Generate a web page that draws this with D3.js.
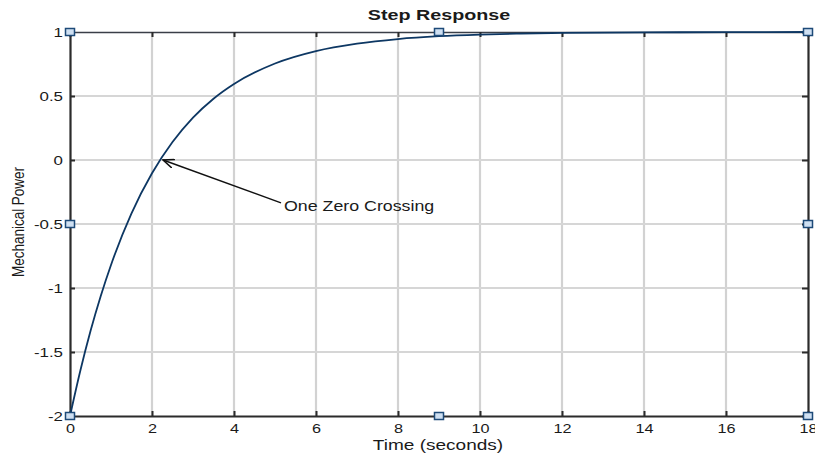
<!DOCTYPE html>
<html>
<head>
<meta charset="utf-8">
<script src="https://cdn.jsdelivr.net/npm/d3@7/dist/d3.min.js"></script>
<style>
  html, body { margin: 0; padding: 0; background: #fff; }
  svg text { font-family: "Liberation Sans", Arial, sans-serif; fill: #1a1a1a; }
</style>
</head>
<body>
<svg id="chart" width="815" height="454"></svg>
<script>
// Step response samples: time (s) and mechanical power
const times  = [0, 0.25, 0.5, 0.75, 1, 1.5, 2, 2.5, 3, 3.5, 4, 5, 6, 7, 8, 9, 10, 11, 12, 14, 16, 18];
const power  = [-2, -1.648, -1.336, -1.062, -0.82, -0.417, -0.104, 0.14, 0.331, 0.479, 0.594, 0.754, 0.851, 0.909, 0.945, 0.967, 0.98, 0.988, 0.993, 0.997, 0.999, 1.0];

const xTicks = [0, 2, 4, 6, 8, 10, 12, 14, 16, 18];
const yTicks = [-2, -1.5, -1, -0.5, 0, 0.5, 1];
const xTickLabels = ["0", "2", "4", "6", "8", "10", "12", "14", "16", "18"];
const yTickLabels = ["-2", "-1.5", "-1", "-0.5", "0", "0.5", "1"];

// Figure edit handles around the axes box
const handles = [[0, 1], [9, 1], [18, 1], [0, -0.5], [18, -0.5], [0, -2], [9, -2], [18, -2]];

// Annotation: arrow tip at the zero crossing, label anchor
const crossing = { t: 2.27, p: 0 };
const noteAnchor = { t: 5.22, p: -0.35 };
const noteText = "One Zero Crossing";

const title = "Step Response";
const xTitle = "Time (seconds)";
const yTitle = "Mechanical Power";

const SX = 1.3; // horizontal text stretch

const svg = d3.select("#chart");
const plotL = 70, plotR = 808, plotT = 32, plotB = 416;

const x = d3.scaleLinear().domain([0, 18]).range([plotL, plotR]);
const y = d3.scaleLinear().domain([-2, 1]).range([plotB, plotT]);

// Grid
svg.append("g").selectAll("line").data(xTicks.slice(1, -1)).join("line")
  .attr("x1", d => x(d)).attr("x2", d => x(d))
  .attr("y1", plotT).attr("y2", plotB)
  .attr("stroke", "#d2d2d2").attr("stroke-width", 2.2);
svg.append("g").selectAll("line").data(yTicks.slice(1, -1)).join("line")
  .attr("x1", plotL).attr("x2", plotR)
  .attr("y1", d => y(d)).attr("y2", d => y(d))
  .attr("stroke", "#d6d6d6").attr("stroke-width", 1.8);

// Axes (inward ticks)
const axB = svg.append("g").attr("transform", `translate(0,${plotB})`)
  .call(d3.axisBottom(x).tickValues(xTicks).tickSizeInner(-5).tickSizeOuter(0).tickFormat((d, i) => xTickLabels[i]));
const axL = svg.append("g").attr("transform", `translate(${plotL},0)`)
  .call(d3.axisLeft(y).tickValues(yTicks).tickSizeInner(-5).tickSizeOuter(0).tickFormat((d, i) => yTickLabels[i]));
const axT = svg.append("g").attr("transform", `translate(0,${plotT})`)
  .call(d3.axisTop(x).tickValues(xTicks).tickSizeInner(-5).tickSizeOuter(0).tickFormat(""));
const axR = svg.append("g").attr("transform", `translate(${plotR},0)`)
  .call(d3.axisRight(y).tickValues(yTicks).tickSizeInner(-6).tickSizeOuter(0).tickFormat(""));

[axB, axL, axT, axR].forEach(g => {
  g.select(".domain").attr("stroke", "#2b2b2b").attr("stroke-width", 2.2);
  g.selectAll(".tick line").attr("stroke", "#2b2b2b").attr("stroke-width", 2);
});
axT.select(".domain").attr("stroke", "#3a3f48").attr("stroke-width", 1.6);

axB.selectAll(".tick text")
  .attr("font-size", 12.5).attr("fill", "#1a1a1a")
  .attr("y", 0).attr("dy", 0)
  .attr("transform", `translate(0,17) scale(${SX},1)`);
axL.selectAll(".tick text")
  .attr("font-size", 13).attr("fill", "#1a1a1a")
  .attr("x", 0).attr("dy", "0.34em")
  .attr("transform", `translate(-7,0) scale(${SX},1)`);
svg.selectAll(".tick text").attr("font-family", "Liberation Sans, Arial, sans-serif");

// Response curve
const pts = times.map((t, i) => [t, power[i]]);
svg.append("path")
  .datum(pts)
  .attr("fill", "none")
  .attr("stroke", "#0d3763")
  .attr("stroke-width", 1.8)
  .attr("d", d3.line().x(d => x(d[0])).y(d => y(d[1])).curve(d3.curveMonotoneX));

// Annotation arrow
const defs = svg.append("defs");
defs.append("marker")
  .attr("id", "arrowHead")
  .attr("viewBox", "0 0 12 10")
  .attr("refX", 11).attr("refY", 5)
  .attr("markerWidth", 12).attr("markerHeight", 10)
  .attr("markerUnits", "userSpaceOnUse")
  .attr("orient", "auto")
  .append("path")
  .attr("d", "M0,0.5 L11,5 L0,9.5")
  .attr("fill", "none").attr("stroke", "#111").attr("stroke-width", 1.6);

svg.append("line")
  .attr("x1", x(noteAnchor.t) - 3).attr("y1", y(noteAnchor.p) - 2)
  .attr("x2", x(crossing.t)).attr("y2", y(crossing.p))
  .attr("stroke", "#111").attr("stroke-width", 1.4)
  .attr("marker-end", "url(#arrowHead)");

svg.append("text")
  .attr("transform", `translate(${x(noteAnchor.t)},${y(noteAnchor.p) + 6}) scale(1.27,1)`)
  .attr("font-size", 14)
  .text(noteText);

// Handles
svg.append("g").selectAll("rect").data(handles).join("rect")
  .attr("x", d => x(d[0]) - 4.5).attr("y", d => y(d[1]) - 3.5)
  .attr("width", 9).attr("height", 7)
  .attr("fill", "#cfe0f2").attr("stroke", "#1d4a78").attr("stroke-width", 1.5);

// Titles
svg.append("text")
  .attr("transform", `translate(${(plotL + plotR) / 2},20) scale(1.36,1)`)
  .attr("text-anchor", "middle").attr("font-size", 14.5).attr("font-weight", "bold")
  .text(title);

svg.append("text")
  .attr("transform", `translate(${(plotL + plotR) / 2 - 1},450) scale(1.27,1)`)
  .attr("text-anchor", "middle").attr("font-size", 15)
  .text(xTitle);

svg.append("text")
  .attr("transform", `translate(24,${(plotT + plotB) / 2 - 2}) rotate(-90) scale(1,1.25)`)
  .attr("text-anchor", "middle").attr("font-size", 13.5)
  .text(yTitle);
</script>
</body>
</html>
